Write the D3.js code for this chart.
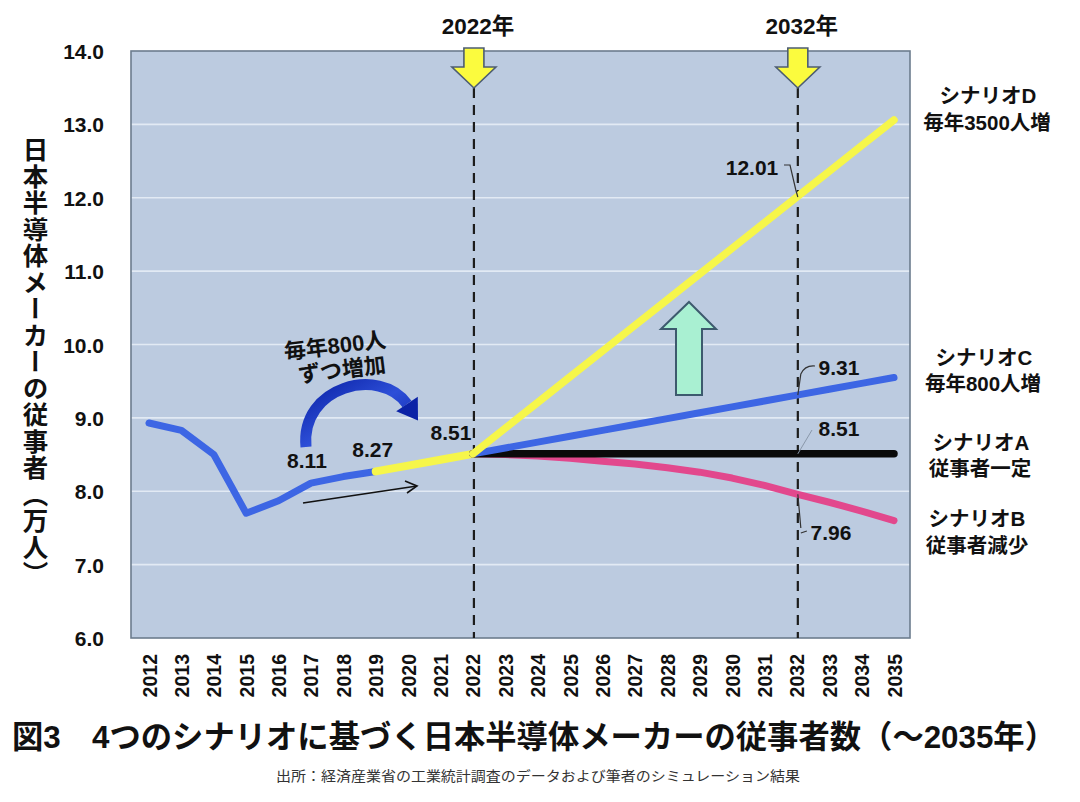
<!DOCTYPE html>
<html><head><meta charset="utf-8">
<script src="https://cdn.jsdelivr.net/npm/d3@7/dist/d3.min.js"></script>
<style>
html,body{margin:0;padding:0;background:#fff;}
svg{display:block;font-family:"Liberation Sans","Noto Sans CJK JP",sans-serif;}
</style></head>
<body>
<script>
// ---- data ----
const years = ["2012","2013","2014","2015","2016","2017","2018","2019","2020","2021","2022","2023","2024","2025","2026","2027","2028","2029","2030","2031","2032","2033","2034","2035"];
const histYears = ["2012","2013","2014","2015","2016","2017","2018","2019"];
const histValues = [8.93, 8.83, 8.50, 7.70, 7.87, 8.11, 8.20, 8.27];
const trendYears = ["2019","2020","2021","2022"];
const trendValues = [8.27, 8.35, 8.43, 8.51];
const projYears = ["2022","2023","2024","2025","2026","2027","2028","2029","2030","2031","2032","2033","2034","2035"];
const scenarioA = [8.51, 8.51, 8.51, 8.51, 8.51, 8.51, 8.51, 8.51, 8.51, 8.51, 8.51, 8.51, 8.51, 8.51];
const scenarioB = [8.51, 8.50, 8.48, 8.45, 8.41, 8.37, 8.32, 8.26, 8.18, 8.08, 7.96, 7.85, 7.73, 7.60];
const scenarioC = [8.51, 8.59, 8.67, 8.75, 8.83, 8.91, 8.99, 9.07, 9.15, 9.23, 9.31, 9.39, 9.47, 9.55];
const scenarioD = [8.51, 8.86, 9.21, 9.56, 9.91, 10.26, 10.61, 10.96, 11.31, 11.66, 12.01, 12.36, 12.71, 13.06];
const yTicks = [6, 7, 8, 9, 10, 11, 12, 13, 14];
const markerYears = ["2022", "2032"];
const histLabels = [{year:"2017", v:8.11, t:"8.11"}, {year:"2019", v:8.27, t:"8.27"}, {year:"2022", v:8.51, t:"8.51"}];

const W = 1080, H = 802;
const L = 131, R = 910, T = 51, B = 638;
const svg = d3.select("body").append("svg").attr("width", W).attr("height", H)
  .attr("font-weight", "bold").attr("fill", "#111");

const x = d3.scalePoint().domain(years).range([149, 894]);
const y = d3.scaleLinear().domain([6, 14]).range([B, T]);

// plot background
svg.append("rect").attr("x", L).attr("y", T).attr("width", R - L).attr("height", B - T)
  .attr("fill", "#bccbe0");
// gridlines
svg.append("g").selectAll("line").data(yTicks.filter(d => d > 6 && d < 14)).join("line")
  .attr("x1", L).attr("x2", R).attr("y1", d => y(d)).attr("y2", d => y(d))
  .attr("stroke", "#e2eaf4").attr("stroke-width", 1.6);
svg.append("rect").attr("x", L).attr("y", T).attr("width", R - L).attr("height", B - T)
  .attr("fill", "none").attr("stroke", "#6c7c8e").attr("stroke-width", 1.6);

// axes
const yAxis = svg.append("g").attr("transform", `translate(104,0)`)
  .call(d3.axisLeft(y).tickValues(yTicks).tickFormat(d3.format(".1f")).tickSize(0).tickPadding(0));
yAxis.select(".domain").remove();
yAxis.selectAll("text").attr("font-size", 21).attr("font-family", "Liberation Sans, sans-serif")
  .attr("font-weight", "bold").attr("fill", "#111").attr("dy", "0.36em");

const xAxis = svg.append("g").attr("transform", `translate(0,654)`)
  .call(d3.axisBottom(x).tickSize(0).tickPadding(0));
xAxis.select(".domain").remove();
xAxis.selectAll("text").attr("font-size", 19.5).attr("font-family", "Liberation Sans, sans-serif")
  .attr("font-weight", "bold").attr("fill", "#111")
  .attr("x", 0).attr("y", 0).attr("dy", "0.36em").attr("transform", "rotate(-90)").attr("text-anchor", "end");

// y axis title (vertical)
svg.append("text").attr("x", 33).attr("y", 362).attr("text-anchor", "middle")
  .style("writing-mode", "vertical-rl").style("letter-spacing", "1px").attr("font-size", 25.5)
  .text("日本半導体メーカーの従事者（万人）");

// dashed marker lines
svg.append("g").selectAll("line").data(markerYears).join("line")
  .attr("x1", d => x(d) + 1).attr("x2", d => x(d) + 1).attr("y1", 88).attr("y2", B)
  .attr("stroke", "#1c1c1c").attr("stroke-width", 2.2).attr("stroke-dasharray", "10,7");

// lines
const line = (ys, vs) => d3.line().x((d, i) => x(ys[i])).y(d => y(d))(vs);
const drawLine = (ys, vs, color, w) => svg.append("path").attr("d", line(ys, vs))
  .attr("fill", "none").attr("stroke", color).attr("stroke-width", w)
  .attr("stroke-linecap", "round").attr("stroke-linejoin", "round");

drawLine(histYears, histValues, "#3d66e4", 7);
drawLine(trendYears, trendValues, "#f6f64a", 8);
drawLine(projYears, scenarioB, "#e2488d", 7);
drawLine(projYears, scenarioA, "#0a0a0a", 7.5);
drawLine(projYears, scenarioC, "#3d66e4", 7);
drawLine(projYears, scenarioD, "#f6f64a", 7.5);

// yellow down arrows at top
markerYears.forEach(yr => {
  const cx = x(yr) + 1;
  const pts = [[cx-10,48],[cx+10,48],[cx+10,67],[cx+22,67],[cx,88],[cx-22,67],[cx-10,67]];
  svg.append("polygon").attr("points", pts.map(p => p.join(",")).join(" "))
    .attr("fill", "#fbfb3e").attr("stroke", "#4d5d72").attr("stroke-width", 1.6).attr("stroke-linejoin", "miter");
  svg.append("text").attr("x", cx + 4).attr("y", 26).attr("text-anchor", "middle")
    .attr("dominant-baseline", "central").attr("font-size", 22.5).text(yr + "年");
});

// green up arrow
{
  const pts = [[689,302],[716,329],[702,329],[702,395],[676,395],[676,329],[661,329]];
  svg.append("polygon").attr("points", pts.map(p => p.join(",")).join(" "))
    .attr("fill", "#a9f0d2").attr("stroke", "#3d5a6e").attr("stroke-width", 2);
}

// value labels on history
histLabels.forEach((d, i) => {
  const offs = [[-4, -23], [-3, -22], [-22, -21]][i];
  svg.append("text").attr("x", x(d.year) + offs[0]).attr("y", y(d.v) + offs[1])
    .attr("text-anchor", "middle").attr("dominant-baseline", "central").attr("font-size", 21).text(d.t);
});

// curved blue arrow
{
  const defs = svg.append("defs");
  const g = defs.append("linearGradient").attr("id", "bluegrad").attr("x1", "0").attr("y1", "0").attr("x2", "1").attr("y2", "1");
  g.append("stop").attr("offset", "0").attr("stop-color", "#0b22a6");
  g.append("stop").attr("offset", "0.5").attr("stop-color", "#2d4fd8");
  g.append("stop").attr("offset", "1").attr("stop-color", "#0b22a6");
  svg.append("path").attr("d", "M306,447 C300,386 380,366 407,404")
    .attr("fill", "none").attr("stroke", "url(#bluegrad)").attr("stroke-width", 11);
  // arrow head
  const ex = 407, ey = 404, dx = 0.55, dy = 0.83;
  const px = -dy, py = dx;
  const head = [[ex + px*13, ey + py*13], [ex + dx*20, ey + dy*20], [ex - px*13, ey - py*13]];
  svg.append("polygon").attr("points", head.map(p => p.join(",")).join(" ")).attr("fill", "#0b22a6");
}
svg.append("text").attr("transform", "translate(335,346) rotate(-7)").attr("text-anchor", "middle")
  .attr("dominant-baseline", "central").attr("font-size", 22).text("毎年800人");
svg.append("text").attr("transform", "translate(342,370) rotate(-7)").attr("text-anchor", "middle")
  .attr("dominant-baseline", "central").attr("font-size", 22).text("ずつ増加");

// thin black arrow
svg.append("line").attr("x1", 303).attr("y1", 503).attr("x2", 417).attr("y2", 486)
  .attr("stroke", "#111").attr("stroke-width", 1.6);
svg.append("path").attr("d", "M405,481 L417,486 L407,493").attr("fill", "none")
  .attr("stroke", "#111").attr("stroke-width", 1.6);

// 2032 value labels and leaders
const x32 = x("2032") + 1;
svg.append("text").attr("x", 752).attr("y", 167).attr("text-anchor", "middle").attr("dominant-baseline", "central").attr("font-size", 21).text("12.01");
svg.append("path").attr("d", `M784,165 L790,165 L${x32-2},190 L${x32},${y(12.01)}`).attr("fill", "none").attr("stroke", "#333").attr("stroke-width", 1.2);
svg.append("text").attr("x", 839).attr("y", 367).attr("text-anchor", "middle").attr("dominant-baseline", "central").attr("font-size", 21).text("9.31");
svg.append("path").attr("d", `M815,366 Q805,365 ${x32+3},374 L${x32},${y(9.31)}`).attr("fill", "none").attr("stroke", "#333").attr("stroke-width", 1.2);
svg.append("text").attr("x", 839).attr("y", 428).attr("text-anchor", "middle").attr("dominant-baseline", "central").attr("font-size", 21).text("8.51");
svg.append("path").attr("d", `M812,430 L${x32},${y(8.51)}`).attr("fill", "none").attr("stroke", "#8a98aa").attr("stroke-width", 1);
svg.append("text").attr("x", 831).attr("y", 532).attr("text-anchor", "middle").attr("dominant-baseline", "central").attr("font-size", 21).text("7.96");
svg.append("path").attr("d", `M${x32},${y(7.96)} L${x32+3},528 M${x32+3},533 L${x32+9},531`).attr("fill", "none").attr("stroke", "#333").attr("stroke-width", 1.2);

// scenario labels on right
const rightLabels = [
  {t:"シナリオD", x:988, y:95}, {t:"毎年3500人増", x:987, y:122},
  {t:"シナリオC", x:984, y:357}, {t:"毎年800人増", x:983, y:383},
  {t:"シナリオA", x:981, y:442}, {t:"従事者一定", x:980, y:468},
  {t:"シナリオB", x:977, y:518}, {t:"従事者減少", x:977, y:545}
];
svg.append("g").selectAll("text").data(rightLabels).join("text")
  .attr("x", d => d.x).attr("y", d => d.y).attr("text-anchor", "middle").attr("dominant-baseline", "central")
  .attr("font-size", 20.5).text(d => d.t);

// title and source
svg.append("text").attr("x", 12).attr("y", 737).attr("dominant-baseline", "central")
  .attr("font-size", 31.5).attr("textLength", 1044).attr("lengthAdjust", "spacingAndGlyphs")
  .text("図3　4つのシナリオに基づく日本半導体メーカーの従事者数（～2035年）");
svg.append("text").attr("x", 538).attr("y", 776).attr("text-anchor", "middle").attr("dominant-baseline", "central")
  .attr("font-size", 13.5).attr("font-weight", "normal").attr("fill", "#333")
  .attr("textLength", 524).attr("lengthAdjust", "spacingAndGlyphs")
  .text("出所：経済産業省の工業統計調査のデータおよび筆者のシミュレーション結果");
</script>
</body></html>
